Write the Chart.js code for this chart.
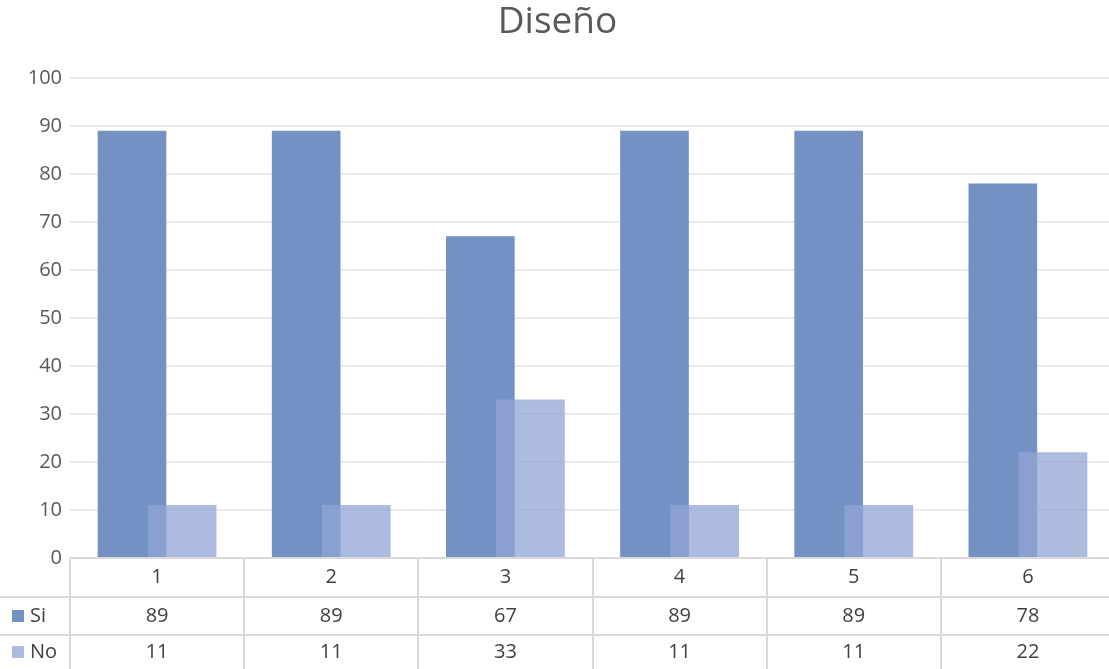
<!DOCTYPE html>
<html>
<head>
<meta charset="utf-8">
<script src="https://cdn.jsdelivr.net/npm/chart.js@4/dist/chart.umd.min.js"></script>
<style>
  html, body { margin: 0; padding: 0; background: #fff; overflow: hidden; }
</style>
</head>
<body>
<!-- a bit wider than the window: the last column runs past the right edge, like the original -->
<canvas id="disenoChart" width="1115" height="669"></canvas>
<script>
// Chart data
const categories = ['1', '2', '3', '4', '5', '6'];
const siValues = [89, 89, 67, 89, 89, 78];
const noValues = [11, 11, 33, 11, 11, 22];
const seriesNames = ['Si', 'No'];

const FONT = '"Open Sans", "Noto Sans", sans-serif';
const siColor = 'rgb(115, 146, 195)';
const noColor = 'rgba(145, 164, 213, 0.75)';
const SHIFT = 0.144; // bars overlap like in Excel

// Draws the data table below the plot, using the x scale for columns
const dataTable = {
    id: 'dataTable',
    afterDraw(chart) {
        const { ctx, chartArea, scales: { x } } = chart;
        const top = chartArea.bottom;
        const rowY = [top, top + 39, top + 77, chart.height];
        const left = chartArea.left;
        const right = chartArea.right;

        ctx.save();
        ctx.strokeStyle = '#d9d9d9';
        ctx.lineWidth = 2;
        ctx.beginPath();
        // horizontal lines
        ctx.moveTo(left, rowY[0]); ctx.lineTo(right, rowY[0]);
        ctx.moveTo(0, rowY[1]); ctx.lineTo(right, rowY[1]);
        ctx.moveTo(0, rowY[2]); ctx.lineTo(right, rowY[2]);
        // vertical lines between categories
        for (let i = 0; i <= categories.length; i++) {
            const px = Math.round(x.getPixelForValue(i + 0.5));
            ctx.moveTo(px, rowY[0]); ctx.lineTo(px, rowY[3]);
        }
        ctx.stroke();

        ctx.font = '20px ' + FONT;
        ctx.fillStyle = '#404040';
        ctx.textAlign = 'center';
        ctx.textBaseline = 'middle';
        categories.forEach((c, i) => {
            const cx = x.getPixelForValue(i + 1);
            ctx.fillText(c, cx, (rowY[0] + rowY[1]) / 2);
            ctx.fillText(String(siValues[i]), cx, (rowY[1] + rowY[2]) / 2);
            ctx.fillText(String(noValues[i]), cx, (rowY[2] + rowY[3]) / 2);
        });

        // legend keys in the first column
        const keyColors = [siColor, noColor];
        seriesNames.forEach((name, k) => {
            const cy = (rowY[k + 1] + rowY[k + 2]) / 2;
            ctx.fillStyle = keyColors[k];
            ctx.fillRect(12, cy - 6, 12, 12);
            ctx.fillStyle = '#404040';
            ctx.textAlign = 'left';
            ctx.fillText(name, 30, cy);
        });
        ctx.restore();
    }
};

const ctx = document.getElementById('disenoChart').getContext('2d');
new Chart(ctx, {
    type: 'bar',
    data: {
        datasets: [
            {
                label: seriesNames[0],
                data: siValues.map((v, i) => ({ x: i + 1 - SHIFT, y: v })),
                backgroundColor: siColor,
                barThickness: 68,
                grouped: false,
                order: 2
            },
            {
                label: seriesNames[1],
                data: noValues.map((v, i) => ({ x: i + 1 + SHIFT, y: v })),
                backgroundColor: noColor,
                barThickness: 68,
                grouped: false,
                order: 1
            }
        ]
    },
    options: {
        responsive: false,
        animation: false,
        layout: {
            padding: { top: 0, left: 0, right: 0, bottom: 111 }
        },
        plugins: {
            legend: { display: false },
            tooltip: { enabled: false },
            title: {
                display: true,
                text: 'Diseño',
                color: '#595959',
                font: { family: FONT, size: 37, weight: 'normal' },
                padding: { top: 0, bottom: 34 }
            }
        },
        scales: {
            x: {
                type: 'linear',
                min: 0.5,
                max: 6.5,
                offset: false,
                display: false
            },
            y: {
                min: 0,
                max: 100,
                ticks: {
                    stepSize: 10,
                    color: '#595959',
                    padding: 8,
                    font: { family: FONT, size: 20 }
                },
                grid: { color: '#ebebeb', lineWidth: 2, drawTicks: false },
                border: { display: false },
                afterFit(scale) { scale.width = 70; }
            }
        }
    },
    plugins: [dataTable]
});
</script>
</body>
</html>
